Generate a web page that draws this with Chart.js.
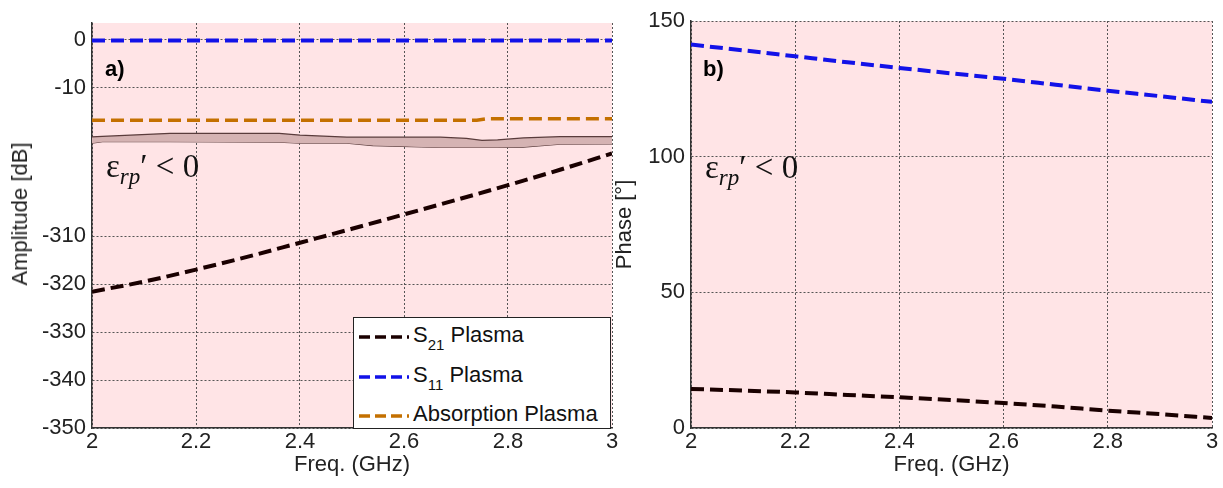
<!DOCTYPE html>
<html>
<head>
<meta charset="utf-8">
<title>Plasma S-parameters</title>
<script src="https://cdn.jsdelivr.net/npm/chart.js@4.4.1/dist/chart.umd.min.js"></script>
<style>
  body { margin: 0; background: #fff; }
  #page { position: relative; width: 1223px; height: 488px; overflow: hidden;
          font-family: "Liberation Sans", Arial, sans-serif; color: #222; }
  #page canvas { position: absolute; top: 0; }
  #ampChart { left: 0; }
  #phaseChart { left: 615px; }
  .tag { position: absolute; font-weight: bold; font-size: 22px; line-height: 22px; color: #000; }
  .eps { position: absolute; font-family: "Liberation Serif", "DejaVu Serif", serif;
         font-size: 33px; line-height: 32px; color: #111; white-space: nowrap; }
  .eps sub { font-style: italic; font-size: 23px; line-height: 0; vertical-align: -7px; }
  .ytitle { position: absolute; font-size: 22px; line-height: 24px; white-space: nowrap;
            transform: translate(-50%, -50%) rotate(-90deg); }
  #legend { position: absolute; left: 353px; top: 317px; width: 258px; height: 112px;
            box-sizing: border-box; border: 1px solid #222; background: #fff; }
  .row { position: absolute; left: 5px; height: 22px; font-size: 22px; line-height: 22px;
         color: #111; white-space: nowrap; }
  .row svg { position: absolute; left: 0; top: 0; }
  .row span { position: absolute; left: 54px; top: 0; }
  .row sub { font-size: 15px; line-height: 0; vertical-align: -8px; }
</style>
</head>
<body>
<div id="page">
  <canvas id="ampChart" width="620" height="488"></canvas>
  <canvas id="phaseChart" width="608" height="488"></canvas>
  <div class="ytitle" style="left:20px; top:214px;">Amplitude [dB]</div>
  <div class="tag" style="left:105px; top:58px;">a)</div>
  <div class="tag" style="left:703px; top:58px;">b)</div>
  <div class="eps" style="left:106px; top:150px;">ε<sub>rp</sub>′ &lt; 0</div>
  <div class="eps" style="left:705px; top:151px;">ε<sub>rp</sub>′ &lt; 0</div>
  <div id="legend"></div>
</div>
<script>
// frequency (GHz)
const freq = [2.0, 2.1, 2.2, 2.3, 2.4, 2.5, 2.6, 2.7, 2.8, 2.9, 3.0];
const xTicks = [2, 2.2, 2.4, 2.6, 2.8, 3];

// amplitude (dB)
const s21Amp = [-321.6, -319.5, -317.0, -314.3, -311.4, -308.5, -305.5, -302.5, -299.4, -296.2, -292.8];
const s11Amp = [-0.1, -0.1, -0.1, -0.1, -0.1, -0.1, -0.1, -0.1, -0.1, -0.1, -0.1];
const absFreq = [2.0, 2.74, 2.76, 3.0];
const absAmp = [-16.7, -16.7, -16.4, -16.4];
const ampTicksTop = [0, -10];
const ampTicksBottom = [-350, -340, -330, -320, -310];

// axis break band, drawn on the upper amplitude segment
const breakFreq = [2.0, 2.02, 2.15, 2.36, 2.4, 2.49, 2.54, 2.67, 2.72, 2.75, 2.78, 2.83, 2.9, 3.0];
const breakTop = [-20.2, -20.1, -19.45, -19.45, -19.8, -20.25, -20.25, -20.25, -20.5, -20.9, -20.8, -20.4, -20.15, -20.15];
const breakBottom = [-21.5, -21.2, -21.2, -21.3, -21.5, -21.5, -22.0, -22.4, -22.4, -22.4, -22.4, -22.3, -21.7, -21.65];

// phase (deg)
const s21Phase = [14.4, 13.8, 13.1, 12.2, 11.3, 10.3, 9.2, 7.9, 6.4, 5.1, 3.7];
const s11Phase = [141.3, 139.2, 137.0, 134.8, 132.7, 130.7, 128.7, 126.5, 124.3, 122.3, 120.2];
const phaseTicks = [0, 50, 100, 150];

const seriesNames = ['S21 Plasma', 'S11 Plasma', 'Absorption Plasma'];
const legendLabels = ['S<sub>21</sub> Plasma', 'S<sub>11</sub> Plasma', 'Absorption Plasma'];
const seriesColors = ['#1a0000', '#1212e8', '#c47000'];
const plotPink = '#ffe4e6';

Chart.defaults.font.family = '"Liberation Sans", Arial, sans-serif';
Chart.defaults.font.size = 22;
Chart.defaults.color = '#222';

function pts(xs, ys) {
    return xs.map((x, i) => ({ x: x, y: ys[i] }));
}

function fixedTicks(values) {
    return scale => { scale.ticks = values.map(v => ({ value: v })); };
}

const plotBackground = {
    id: 'plotBackground',
    beforeDraw(chart) {
        const { ctx, chartArea: a } = chart;
        ctx.save();
        ctx.fillStyle = plotPink;
        ctx.fillRect(a.left, a.top, a.right - a.left, a.bottom - a.top);
        ctx.restore();
    }
};

function dashed(label, xs, ys, color, axis, width) {
    return {
        label: label,
        data: pts(xs, ys),
        yAxisID: axis,
        borderColor: color,
        borderWidth: width,
        borderDash: [13, 6],
        pointRadius: 0,
        cubicInterpolationMode: 'monotone',
        fill: false
    };
}

const gridStyle = { color: '#555', lineWidth: 1, drawTicks: false };
const borderStyle = { color: '#333', width: 1.5, dash: [2, 2] };

function xScale() {
    return {
        type: 'linear', min: 2, max: 3,
        afterBuildTicks: fixedTicks(xTicks),
        afterFit: s => { s.height = 60; },
        ticks: { padding: 1, callback: v => String(v) },
        grid: gridStyle,
        border: borderStyle,
        title: { display: true, text: 'Freq. (GHz)', padding: { top: 0, bottom: 10 } }
    };
}

// amplitude chart with a broken y axis (two stacked segments)
new Chart(document.getElementById('ampChart'), {
    type: 'line',
    data: {
        datasets: [
            dashed(seriesNames[0], freq, s21Amp, seriesColors[0], 'yBot', 4),
            dashed(seriesNames[1], freq, s11Amp, seriesColors[1], 'yTop', 4),
            Object.assign(dashed(seriesNames[2], absFreq, absAmp, seriesColors[2], 'yTop', 3.5), { cubicInterpolationMode: 'default', tension: 0 }),
            {
                label: 'breakTop', data: pts(breakFreq, breakTop), yAxisID: 'yTop',
                borderColor: '#5a3c3c', borderWidth: 1.2, pointRadius: 0, tension: 0,
                backgroundColor: '#d5b3b3', fill: '+1', clip: false
            },
            {
                label: 'breakBottom', data: pts(breakFreq, breakBottom), yAxisID: 'yTop',
                borderColor: '#5a3c3c', borderWidth: 1.2, pointRadius: 0, tension: 0,
                fill: false, clip: false
            }
        ]
    },
    options: {
        responsive: false,
        animation: false,
        layout: { padding: { top: 23, right: 8, bottom: 0, left: 0 } },
        plugins: { legend: { display: false }, tooltip: { enabled: false } },
        scales: {
            x: xScale(),
            yTop: {
                type: 'linear', position: 'left', stack: 'amp', stackWeight: 25, weight: 2,
                min: -21.46, max: 3.54,
                afterBuildTicks: fixedTicks(ampTicksTop),
                afterFit: s => { s.width = 92; },
                ticks: { padding: 6 },
                grid: gridStyle,
                border: borderStyle
            },
            yBot: {
                type: 'linear', position: 'left', stack: 'amp', stackWeight: 59.375, weight: 1,
                min: -350, max: -290.625,
                afterBuildTicks: fixedTicks(ampTicksBottom),
                afterFit: s => { s.width = 92; },
                ticks: { padding: 6 },
                grid: gridStyle,
                border: borderStyle
            }
        }
    },
    plugins: [plotBackground]
});

new Chart(document.getElementById('phaseChart'), {
    type: 'line',
    data: {
        datasets: [
            dashed(seriesNames[0], freq, s21Phase, seriesColors[0], 'y', 4),
            dashed(seriesNames[1], freq, s11Phase, seriesColors[1], 'y', 4)
        ]
    },
    options: {
        responsive: false,
        animation: false,
        layout: { padding: { top: 21, right: 11, bottom: 0, left: 0 } },
        plugins: { legend: { display: false }, tooltip: { enabled: false } },
        scales: {
            x: xScale(),
            y: {
                type: 'linear', min: 0, max: 150,
                afterBuildTicks: fixedTicks(phaseTicks),
                afterFit: s => { s.width = 76; },
                ticks: { padding: 6 },
                grid: gridStyle,
                border: borderStyle,
                title: { display: true, text: 'Phase [°]', padding: { top: -3, bottom: 0 } }
            }
        }
    },
    plugins: [plotBackground]
});

// legend box for the amplitude chart
const legendBox = document.getElementById('legend');
seriesNames.forEach((name, i) => {
    const row = document.createElement('div');
    row.className = 'row';
    row.style.top = (6 + 39.5 * i) + 'px';
    row.innerHTML =
        '<svg width="50" height="22"><line x1="0" y1="13" x2="50" y2="13" stroke="' + seriesColors[i] +
        '" stroke-width="3.5" stroke-dasharray="11 5"/></svg><span>' + legendLabels[i] + '</span>';
    legendBox.appendChild(row);
});
</script>
</body>
</html>
